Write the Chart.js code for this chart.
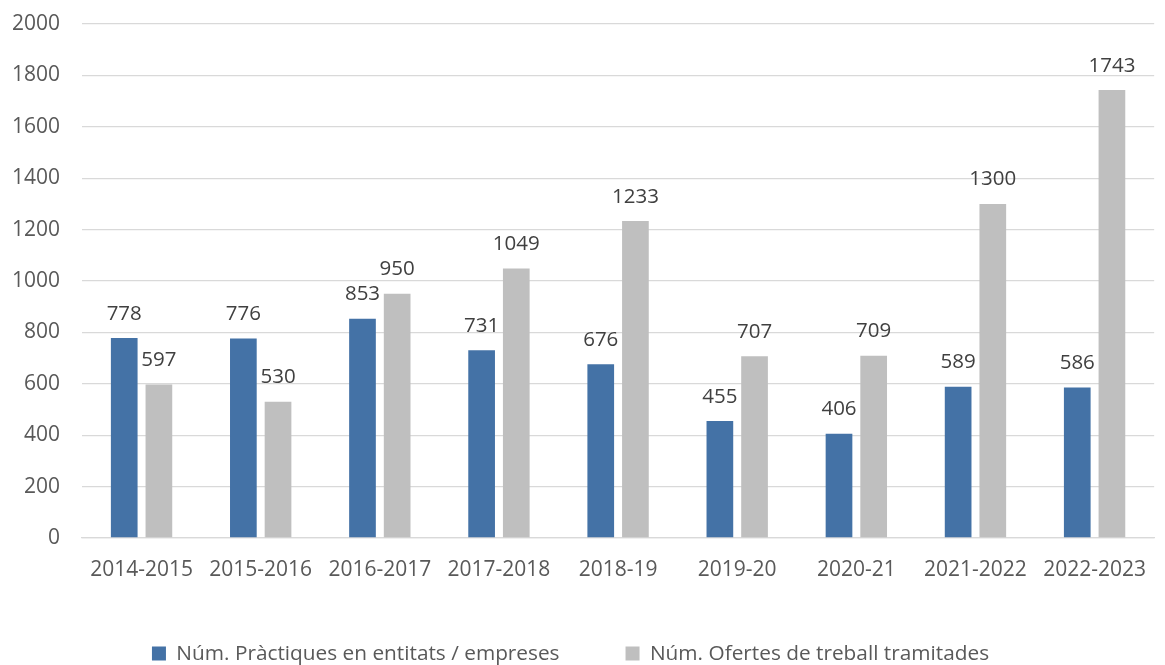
<!DOCTYPE html>
<html>
<head>
<meta charset="utf-8">
<script src="https://cdn.jsdelivr.net/npm/chart.js@4"></script>
<style>
  html, body { margin: 0; padding: 0; background: #fff; }
  #wrap { width: 1165px; height: 665px; }
</style>
</head>
<body>
<div id="wrap"><canvas id="chart"></canvas></div>
<script>
const categories = ["2014-2015", "2015-2016", "2016-2017", "2017-2018", "2018-19", "2019-20", "2020-21", "2021-2022", "2022-2023"];
const practiques = [778, 776, 853, 731, 676, 455, 406, 589, 586];
const ofertes = [597, 530, 950, 1049, 1233, 707, 709, 1300, 1743];
const seriesNames = ["Núm. Pràctiques en entitats / empreses", "Núm. Ofertes de treball tramitades"];

const FONT = "'Open Sans', sans-serif";

// etiquetes de valor damunt de cada barra
const valueLabels = {
  id: "valueLabels",
  afterDatasetsDraw(chart) {
    const ctx = chart.ctx;
    ctx.save();
    ctx.font = "20.5px " + FONT;
    ctx.fillStyle = "#404040";
    ctx.textAlign = "center";
    ctx.textBaseline = "alphabetic";
    chart.data.datasets.forEach((ds, i) => {
      chart.getDatasetMeta(i).data.forEach((bar, j) => {
        ctx.fillText(ds.data[j], bar.x, bar.y - 18.5);
      });
    });
    ctx.restore();
  }
};

// la llegenda queda una mica a l'esquerra del centre
const legendShift = {
  id: "legendShift",
  afterLayout(chart) {
    chart.legend.left -= 12;
    chart.legend.right -= 12;
  }
};

new Chart(document.getElementById("chart"), {
  type: "bar",
  data: {
    labels: categories,
    datasets: [
      { label: seriesNames[0], data: practiques, backgroundColor: "#4472A6" },
      { label: seriesNames[1], data: ofertes, backgroundColor: "#BFBFBF" },
    ],
  },
  plugins: [valueLabels, legendShift],
  options: {
    responsive: true,
    maintainAspectRatio: false,
    animation: false,
    barPercentage: 0.77,
    categoryPercentage: 0.582,
    layout: { padding: { top: 24, left: 0, right: 0, bottom: -9 } },
    plugins: {
      tooltip: { enabled: false },
      legend: {
        position: "bottom",
        labels: {
          font: { family: FONT, size: 20.8 },
          color: "#595959",
          boxWidth: 14,
          boxHeight: 14,
          padding: 66,
        },
      },
    },
    scales: {
      y: {
        min: 0,
        max: 2000,
        afterFit: (s) => { s.width = 82; s.paddingTop = 0; s.paddingBottom = 0; },
        border: { display: false },
        grid: { color: "#D9D9D9", lineWidth: 1.3, drawTicks: false },
        ticks: {
          stepSize: 200,
          padding: 22,
          color: "#595959",
          font: { family: FONT, size: 21 },
          callback: (v) => String(v),
        },
      },
      x: {
        afterFit: (s) => { s.height -= 24; },
        border: { color: "#D9D9D9", width: 1.3 },
        grid: { display: false, drawTicks: false },
        ticks: {
          padding: 19,
          color: "#595959",
          maxRotation: 0,
          autoSkip: false,
          font: { family: FONT, size: 21 },
        },
      },
    },
  },
});
</script>
</body>
</html>
